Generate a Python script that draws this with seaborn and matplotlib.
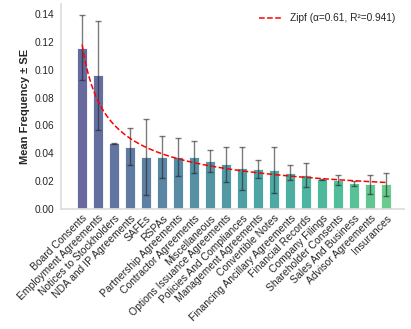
import numpy as np
import pandas as pd
import matplotlib
matplotlib.use("Agg")
import matplotlib.pyplot as plt
import seaborn as sns

# Document categories, ranked by mean frequency
categories = [
    "Board Consents", "Employment Agreements", "Notices to Stockholders",
    "NDA and IP Agreements", "SAFEs", "RSPAs", "Partnership Agreements",
    "Contractor Agreements", "Miscellaneous", "Options Issuance Agreements",
    "Policies And Compliances", "Management Agreements", "Convertible Notes",
    "Financing Ancillary Agreements", "Financial Records", "Company Filings",
    "Shareholder Consents", "Sales And Business", "Advisor Agreements",
    "Insurances",
]
mean_freq = [0.1158, 0.0960, 0.0472, 0.0447, 0.0373, 0.0373, 0.0373, 0.0373,
             0.0345, 0.0321, 0.0292, 0.0285, 0.0280, 0.0261, 0.0244, 0.0213,
             0.0208, 0.0184, 0.0177, 0.0177]
std_err = [0.0235, 0.0393, 0.0003, 0.0135, 0.0274, 0.0153, 0.0133, 0.0113,
           0.0080, 0.0126, 0.0153, 0.0066, 0.0166, 0.0055, 0.0087, 0.0005,
           0.0038, 0.0019, 0.0068, 0.0082]

# Zipf fit parameters (from legend)
zipf_alpha = 0.61
zipf_r2 = 0.941
zipf_c = 0.118

df = pd.DataFrame({"category": categories, "mean": mean_freq, "se": std_err})

sns.set_theme(style="whitegrid")
plt.rcParams["font.family"] = ["Liberation Sans", "DejaVu Sans"]

fig, ax = plt.subplots(figsize=(4.11, 3.29), dpi=100)

colors = [plt.cm.viridis(v) for v in np.linspace(0.2, 0.7, len(categories))]
sns.barplot(data=df, x="category", y="mean", hue="category", palette=colors,
            legend=False, width=0.62, edgecolor="white",
            linewidth=0.6, saturation=1, ax=ax)
for p in ax.patches:
    fc = p.get_facecolor()
    p.set_facecolor((fc[0], fc[1], fc[2], 0.8))

ax.errorbar(np.arange(len(df)), df["mean"], yerr=df["se"], fmt="none",
            ecolor="#222222", alpha=0.6, elinewidth=1.0, capsize=2.5,
            capthick=1.0)

# Zipf curve
rank = np.linspace(1, len(df), 100)
ax.plot(rank - 1, zipf_c * rank ** (-zipf_alpha), "--", color="red",
        linewidth=1.1,
        label=f"Zipf (\u03b1={zipf_alpha:.2f}, R\u00b2={zipf_r2:.3f})")

ax.set_xlim(-1.33, 20.1)
ax.set_ylim(0, 0.147)
ax.grid(False)
ax.set_xlabel("")
ax.set_ylabel("Mean Frequency \u00b1 SE", fontsize=8, fontweight="bold",
              labelpad=3)
ax.set_yticks(np.arange(0, 0.141, 0.02))
ax.set_yticklabels([f"{v:.2f}" for v in np.arange(0, 0.141, 0.02)])
ax.tick_params(axis="both", length=0)
ax.tick_params(axis="y", labelsize=7.3, pad=5)
ax.tick_params(axis="x", labelsize=7.5, pad=3)
plt.setp(ax.get_xticklabels(), rotation=45, ha="right", rotation_mode="anchor")
sns.despine(ax=ax)
for s in ["left", "bottom"]:
    ax.spines[s].set_color("#dddddd")

ax.legend(loc="upper right", frameon=False, fontsize=7.3, handlelength=2.2)

fig.subplots_adjust(left=0.148, right=0.983, bottom=0.365, top=0.987)
fig.savefig("out.png", dpi=100)
